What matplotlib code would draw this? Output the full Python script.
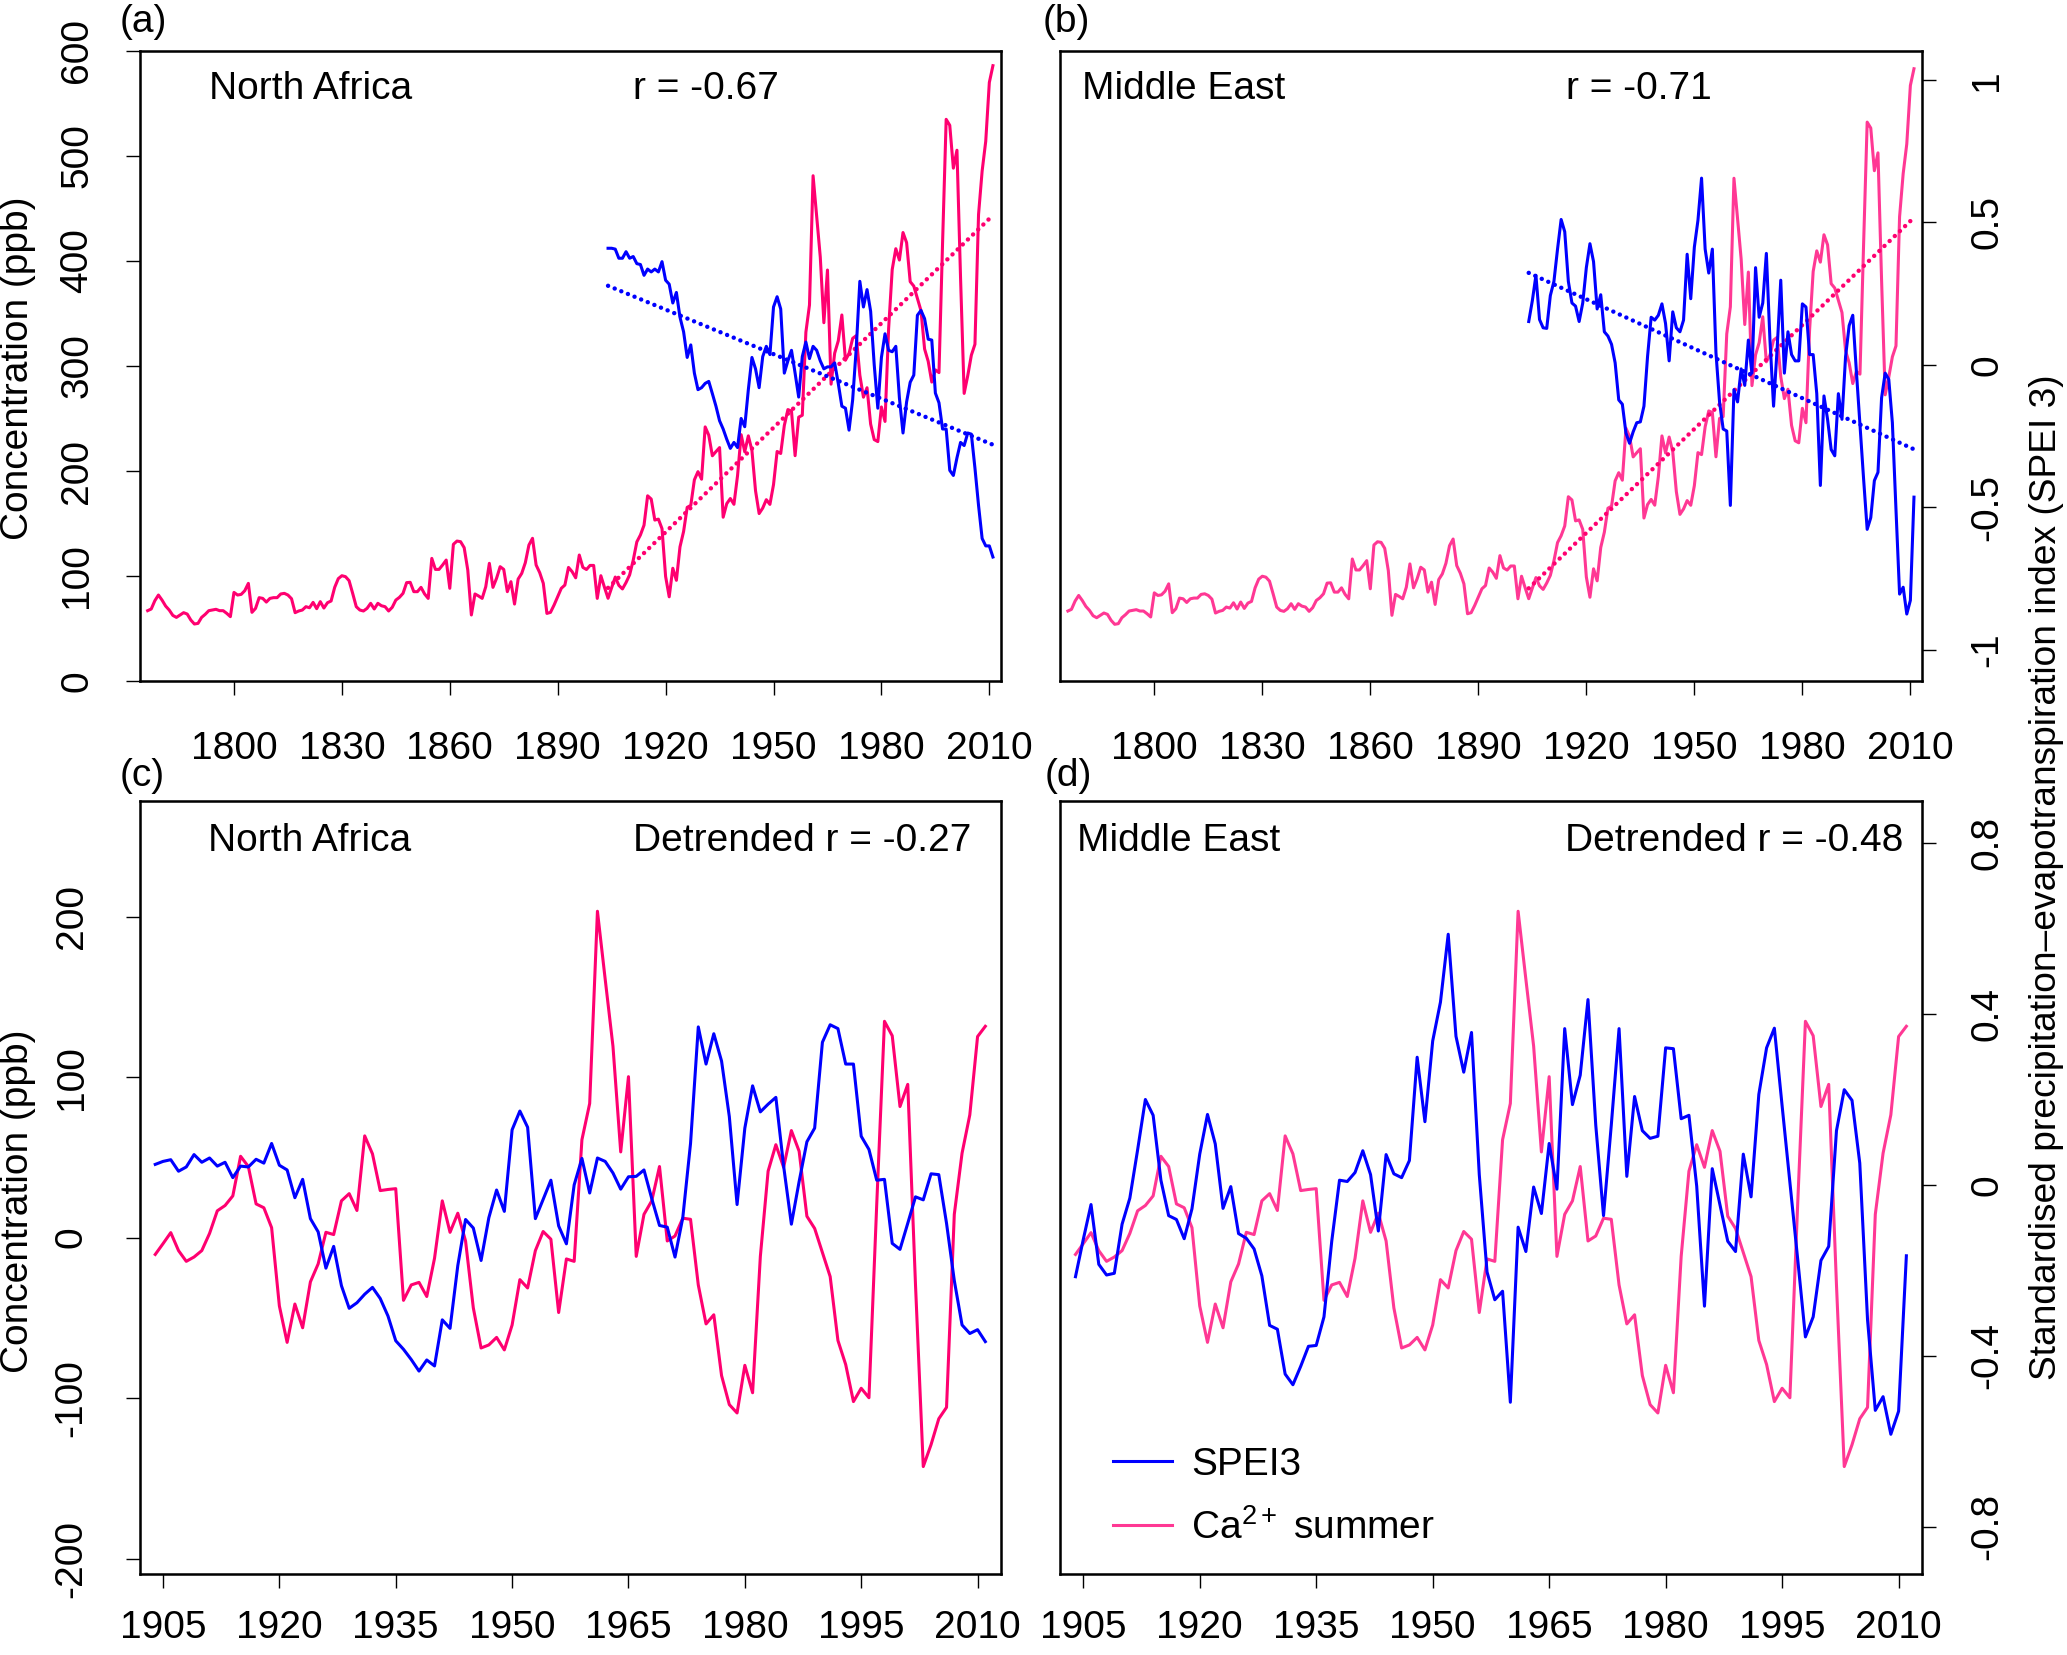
import numpy as np
import matplotlib
matplotlib.use('Agg')
import matplotlib.pyplot as plt
from matplotlib.ticker import FuncFormatter

plt.rcParams['font.family'] = ['Liberation Sans', 'DejaVu Sans']
plt.rcParams['font.size'] = 28
plt.rcParams['axes.unicode_minus'] = False
plt.rcParams['mathtext.fontset'] = 'custom'
plt.rcParams['mathtext.rm'] = 'Liberation Sans'
plt.rcParams['mathtext.it'] = 'Liberation Sans:italic'

# Ca2+ summer concentration (ppb), 1776-2011
years_ca = np.arange(1776, 2012)
ca_summer = [
    67.0, 68.6, 76.5, 81.9, 77.1, 71.4, 67.6, 62.5, 60.6, 62.9,
    65.1, 63.8, 58.1, 54.3, 54.9, 60.6, 63.5, 67.0, 67.6, 68.3,
    67.0, 67.0, 64.4, 61.3, 84.4, 81.9, 82.5, 86.0, 93.0, 65.4,
    69.2, 79.4, 78.7, 75.2, 78.7, 79.4, 79.4, 82.9, 83.5, 81.9,
    78.4, 65.1, 66.7, 67.6, 70.8, 69.8, 74.9, 68.9, 75.6, 69.5,
    74.6, 76.2, 89.2, 97.5, 100.3, 99.4, 95.6, 83.5, 70.8, 67.6,
    66.7, 69.2, 74.0, 68.6, 74.0, 71.7, 70.8, 66.7, 70.2, 77.1,
    79.7, 83.5, 93.7, 94.0, 85.1, 85.1, 89.2, 82.9, 78.7, 116.8,
    106.3, 106.3, 110.5, 115.2, 88.3, 130.2, 133.3, 132.7, 127.0, 105.7,
    62.9, 82.9, 81.0, 78.7, 89.8, 112.1, 89.2, 97.8, 108.9, 106.3,
    85.1, 94.6, 73.3, 97.1, 102.5, 112.7, 129.5, 135.9, 110.5, 103.2,
    93.0, 64.4, 65.4, 72.4, 80.3, 88.3, 91.4, 108.2, 104.2, 98.3,
    120.0, 108.2, 106.2, 110.1, 110.1, 78.7, 100.3, 89.3,
    78.8, 88.8, 99.0, 91.1, 87.7, 93.8, 101.1, 115.1, 132.5, 139.1,
    148.4, 176.4, 173.3, 153.3, 154.2, 145.1, 99.6, 80.2, 107.4, 95.9,
    127.8, 142.4, 165.4, 167.3, 191.6, 199.4, 192.2, 242.0, 234.1, 214.5,
    218.5, 222.3, 156.0, 168.9, 173.8, 168.3, 195.6, 234.6, 218.3, 233.5,
    219.6, 181.2, 159.5, 164.7, 172.7, 168.2, 187.0, 218.6, 216.7, 243.3,
    258.5, 257.0, 214.6, 251.3, 253.1, 332.2, 358.1, 481.2, 442.1, 403.8,
    341.2, 391.4, 282.7, 312.2, 323.9, 348.6, 305.5, 311.9, 326.3, 328.9,
    291.3, 270.3, 279.3, 244.7, 229.9, 228.0, 261.0, 247.2, 335.5, 391.9,
    411.7, 400.9, 427.1, 417.5, 380.3, 376.1, 364.4, 352.7, 316.2, 304.5,
    284.7, 296.3, 293.7, 417.3, 534.9, 529.2, 488.4, 505.5, 383.8, 273.9,
    290.8, 310.3, 320.7, 444.3, 485.7, 514.0, 570.0, 586.0,
]

# SPEI3, 1904-2011
years = np.arange(1904, 2012)
spei_north_africa = [
    0.409, 0.409, 0.406, 0.374, 0.374, 0.397, 0.374, 0.380, 0.355, 0.352,
    0.314, 0.336, 0.326, 0.336, 0.326, 0.362, 0.297, 0.283, 0.217, 0.254,
    0.167, 0.116, 0.026, 0.070, -0.029, -0.087, -0.080, -0.065, -0.058, -0.101,
    -0.145, -0.196, -0.225, -0.261, -0.293, -0.272, -0.290, -0.188, -0.217, -0.087,
    0.026, -0.014, -0.080, 0.029, 0.065, 0.036, 0.203, 0.239, 0.196, -0.029,
    0.014, 0.051, -0.029, -0.113, 0.029, 0.080, 0.022, 0.065, 0.051, 0.014,
    -0.014, -0.007, -0.007, 0.007, -0.065, -0.145, -0.152, -0.229, -0.123, 0.058,
    0.293, 0.203, 0.264, 0.188, 0.000, -0.152, 0.026, 0.109, 0.051, 0.046,
    0.065, -0.116, -0.239, -0.130, -0.061, -0.036, 0.174, 0.191, 0.162, 0.090,
    0.087, -0.099, -0.133, -0.225, -0.225, -0.370, -0.388, -0.326, -0.272, -0.283,
    -0.239, -0.243, -0.362, -0.493, -0.609, -0.635, -0.635, -0.674,
]
spei_middle_east = [
    0.152, 0.225, 0.314, 0.159, 0.130, 0.128, 0.243, 0.293, 0.406, 0.510,
    0.467, 0.293, 0.217, 0.206, 0.152, 0.217, 0.341, 0.425, 0.362, 0.196,
    0.246, 0.116, 0.101, 0.072, 0.007, -0.123, -0.138, -0.239, -0.275, -0.235,
    -0.203, -0.200, -0.145, 0.029, 0.167, 0.157, 0.174, 0.214, 0.145, 0.014,
    0.186, 0.130, 0.116, 0.157, 0.388, 0.232, 0.413, 0.507, 0.655, 0.406,
    0.322, 0.406, 0.043, -0.130, -0.225, -0.232, -0.493, -0.087, -0.130, -0.014,
    -0.072, 0.087, -0.029, 0.341, 0.167, 0.217, 0.391, 0.087, -0.145, 0.058,
    0.297, -0.029, 0.116, 0.036, 0.014, 0.014, 0.214, 0.203, 0.036, 0.036,
    -0.101, -0.423, -0.109, -0.191, -0.297, -0.319, -0.101, -0.191, 0.029, 0.138,
    0.174, -0.022, -0.210, -0.399, -0.577, -0.536, -0.406, -0.377, -0.116, -0.029,
    -0.051, -0.203, -0.507, -0.804, -0.780, -0.874, -0.826, -0.464,
]

# detrended series, 1904-2011
ca_detrended = [
    -10.5, -3.8, 3.1, -8.1, -14.8, -12.1, -8.1, 2.6, 16.7, 20.0,
    26.0, 50.7, 44.3, 21.0, 18.6, 6.2, -42.6, -65.3, -41.4, -56.2,
    -27.6, -16.4, 3.3, 1.9, 22.9, 27.4, 16.9, 63.4, 52.2, 29.3,
    30.0, 30.5, -39.1, -29.5, -27.9, -36.7, -12.9, 22.9, 3.3, 15.2,
    -2.1, -43.8, -68.8, -66.9, -62.2, -70.0, -54.5, -26.2, -31.4, -8.1,
    3.8, -1.0, -46.7, -13.3, -14.8, 61.0, 83.6, 203.4, 161.0, 119.3,
    53.4, 100.3, -11.7, 14.5, 22.9, 44.3, -2.1, 1.0, 12.1, 11.4,
    -29.5, -53.8, -48.1, -86.0, -104.1, -109.3, -79.6, -96.7, -11.7, 41.4,
    57.9, 43.8, 66.7, 53.8, 13.3, 5.7, -9.3, -24.3, -64.1, -79.1,
    -102.2, -93.9, -99.8, 20.5, 134.8, 125.8, 81.7, 95.5, -29.5, -142.7,
    -129.1, -112.9, -105.8, 14.5, 52.6, 76.5, 125.3, 131.7,
]
spei_na_detrended = [
    0.048, 0.055, 0.059, 0.032, 0.042, 0.071, 0.053, 0.063, 0.044, 0.053,
    0.017, 0.044, 0.042, 0.060, 0.051, 0.097, 0.046, 0.035, -0.030, 0.013,
    -0.079, -0.110, -0.195, -0.144, -0.236, -0.289, -0.276, -0.256, -0.240, -0.266,
    -0.307, -0.365, -0.385, -0.409, -0.436, -0.410, -0.424, -0.316, -0.336, -0.189,
    -0.081, -0.101, -0.177, -0.077, -0.012, -0.062, 0.129, 0.173, 0.135, -0.079,
    -0.034, 0.011, -0.096, -0.138, 0.000, 0.062, -0.019, 0.063, 0.055, 0.028,
    -0.010, 0.019, 0.020, 0.035, -0.032, -0.095, -0.099, -0.169, -0.077, 0.097,
    0.370, 0.283, 0.354, 0.290, 0.160, -0.046, 0.133, 0.232, 0.171, 0.189,
    0.205, 0.044, -0.092, 0.008, 0.101, 0.133, 0.334, 0.375, 0.366, 0.283,
    0.283, 0.114, 0.083, 0.011, 0.013, -0.137, -0.151, -0.090, -0.028, -0.035,
    0.026, 0.024, -0.090, -0.224, -0.328, -0.348, -0.339, -0.367,
]
spei_me_detrended = [
    -0.215, -0.128, -0.046, -0.186, -0.211, -0.207, -0.092, -0.031, 0.082, 0.200,
    0.163, 0.011, -0.072, -0.081, -0.126, -0.056, 0.072, 0.165, 0.096, -0.055,
    -0.004, -0.114, -0.125, -0.150, -0.213, -0.329, -0.338, -0.443, -0.468, -0.425,
    -0.378, -0.376, -0.309, -0.132, 0.011, 0.008, 0.029, 0.080, 0.024, -0.108,
    0.071, 0.026, 0.017, 0.057, 0.299, 0.148, 0.337, 0.428, 0.587, 0.348,
    0.264, 0.357, 0.024, -0.204, -0.269, -0.249, -0.509, -0.099, -0.156, -0.005,
    -0.067, 0.097, -0.010, 0.366, 0.188, 0.257, 0.434, 0.140, -0.072, 0.140,
    0.366, 0.020, 0.207, 0.127, 0.109, 0.114, 0.321, 0.319, 0.155, 0.163,
    -0.003, -0.284, 0.038, -0.047, -0.132, -0.156, 0.072, -0.028, 0.212, 0.321,
    0.367, 0.185, 0.006, -0.173, -0.356, -0.309, -0.177, -0.144, 0.127, 0.223,
    0.198, 0.051, -0.316, -0.528, -0.496, -0.584, -0.530, -0.166,
]

blue = '#0000FF'
pink = '#FF0070'
pink_light = '#FF3894'
dotted = (0, (0.01, 1.6))


def trend(x, y):
    p = np.polyfit(x, y, 1)
    return np.polyval(p, x)


def style_axis(ax, xticks, xpad, ypad):
    for s in ax.spines.values():
        s.set_linewidth(1.8)
    ax.set_xticks(xticks)
    ax.tick_params(axis='x', direction='out', length=10, width=1, pad=xpad)
    ax.tick_params(axis='y', direction='out', length=10, width=1, pad=ypad)


fmt = FuncFormatter(lambda v, pos: '{:g}'.format(v))

fig = plt.figure(figsize=(20.67, 16.55), dpi=100)
ax_a = fig.add_axes([0.0676, 0.5885, 0.4166, 0.3807])
ax_b = fig.add_axes([0.5128, 0.5885, 0.4170, 0.3807])
ax_c = fig.add_axes([0.0676, 0.0490, 0.4166, 0.4670])
ax_d = fig.add_axes([0.5128, 0.0490, 0.4170, 0.4670])

ca = np.array(ca_summer)
recent = years_ca >= 1904

# (a) North Africa, raw
ax_a.plot(years_ca, ca, color=pink, lw=2.2)
ax_a.plot(years, trend(years, ca[recent]), color=pink, lw=3.2, ls=dotted,
          dash_capstyle='round')
ax_a.set_xlim(1773.8, 2013.2)
ax_a.set_ylim(0, 600)
ax_a.set_yticks(range(0, 601, 100))
style_axis(ax_a, range(1800, 2011, 30), 26, 22)
plt.setp(ax_a.get_yticklabels(), rotation=90, va='center')
ax_a2 = ax_a.twinx()
ax_a2.plot(years, spei_north_africa, color=blue, lw=2.2)
ax_a2.plot(years, trend(years, spei_north_africa), color=blue, lw=3.2,
           ls=dotted, dash_capstyle='round')
ax_a2.set_ylim(-1.109, 1.101)
ax_a2.set_yticks([])
ax_a.text(0.080, 0.923, 'North Africa', transform=ax_a.transAxes)
ax_a.text(0.573, 0.923, 'r = -0.67', transform=ax_a.transAxes)

# (b) Middle East, raw
ax_b.plot(years_ca, ca, color=pink_light, lw=2.2)
ax_b.plot(years, trend(years, ca[recent]), color=pink, lw=3.2, ls=dotted,
          dash_capstyle='round')
ax_b.set_xlim(1773.8, 2013.2)
ax_b.set_ylim(0, 603)
ax_b.set_yticks([])
style_axis(ax_b, range(1800, 2011, 30), 26, 22)
ax_b2 = ax_b.twinx()
ax_b2.plot(years, spei_middle_east, color=blue, lw=2.2)
ax_b2.plot(years, trend(years, spei_middle_east), color=blue, lw=3.2,
           ls=dotted, dash_capstyle='round')
ax_b2.set_ylim(-1.109, 1.101)
ax_b2.set_yticks([-1, -0.5, 0, 0.5, 1])
ax_b2.yaxis.set_major_formatter(fmt)
ax_b2.tick_params(axis='y', direction='out', length=10, width=1, pad=24)
plt.setp(ax_b2.get_yticklabels(), rotation=90, va='center')
ax_b.text(0.025, 0.923, 'Middle East', transform=ax_b.transAxes)
ax_b.text(0.587, 0.923, 'r = -0.71', transform=ax_b.transAxes)

# (c) North Africa, detrended
ax_c.plot(years, ca_detrended, color=pink, lw=2.2)
ax_c.set_xlim(1902.0, 2013.0)
ax_c.set_ylim(-209.6, 272.1)
ax_c.set_yticks(range(-200, 201, 100))
style_axis(ax_c, range(1905, 2011, 15), 16, 26)
plt.setp(ax_c.get_yticklabels(), rotation=90, va='center')
ax_c2 = ax_c.twinx()
ax_c2.plot(years, spei_na_detrended, color=blue, lw=2.2)
ax_c2.set_ylim(-0.911, 0.899)
ax_c2.set_yticks([])
ax_c.text(0.079, 0.935, 'North Africa', transform=ax_c.transAxes)
ax_c.text(0.966, 0.935, 'Detrended r = -0.27', ha='right',
          transform=ax_c.transAxes)

# (d) Middle East, detrended
ca_line, = ax_d.plot(years, ca_detrended, color=pink_light, lw=2.2)
ax_d.set_xlim(1902.0, 2013.0)
ax_d.set_ylim(-209.6, 272.1)
ax_d.set_yticks([])
style_axis(ax_d, range(1905, 2011, 15), 16, 26)
ax_d2 = ax_d.twinx()
spei_line, = ax_d2.plot(years, spei_me_detrended, color=blue, lw=2.2)
ax_d2.set_ylim(-0.911, 0.899)
ax_d2.set_yticks([-0.8, -0.4, 0, 0.4, 0.8])
ax_d2.yaxis.set_major_formatter(fmt)
ax_d2.tick_params(axis='y', direction='out', length=10, width=1, pad=24)
plt.setp(ax_d2.get_yticklabels(), rotation=90, va='center')
ax_d.text(0.020, 0.935, 'Middle East', transform=ax_d.transAxes)
ax_d.text(0.979, 0.935, 'Detrended r = -0.48', ha='right',
          transform=ax_d.transAxes)
ax_d2.legend([spei_line, ca_line], ['SPEI3', r'Ca$^{\mathrm{2+}}$ summer'],
             loc='lower left', bbox_to_anchor=(0.062, 0.035), frameon=False,
             handlelength=1.5, handletextpad=0.5, labelspacing=0.68,
             borderpad=0, borderaxespad=0)

# panel letters and shared axis titles
fig.text(0.058, 0.9807, '(a)')
fig.text(0.5046, 0.9807, '(b)')
fig.text(0.058, 0.525, '(c)')
fig.text(0.5053, 0.525, '(d)')
fig.text(0.0087, 0.7776, 'Concentration (ppb)', rotation=90,
         ha='center', va='center')
fig.text(0.0087, 0.2743, 'Concentration (ppb)', rotation=90,
         ha='center', va='center')
fig.text(0.990, 0.470,
         'Standardised precipitation\u2013evapotranspiration index (SPEI 3)',
         rotation=90, ha='center', va='center', fontsize=26.7)

fig.savefig('out.png', dpi=100)
